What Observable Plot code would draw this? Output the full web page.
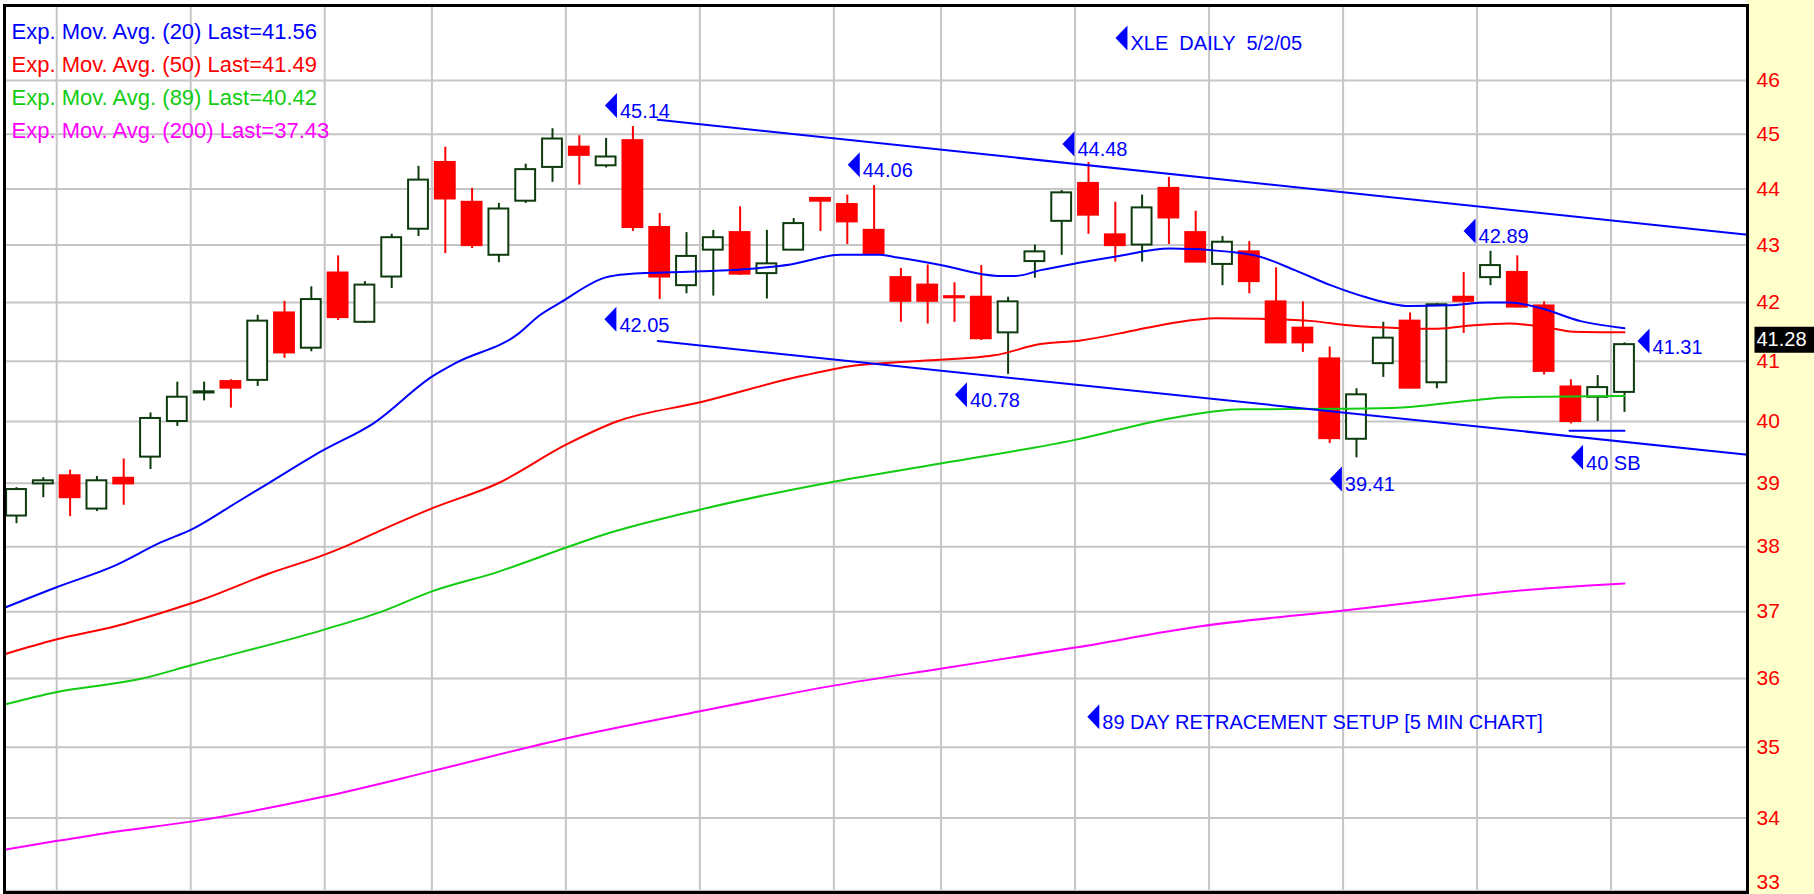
<!DOCTYPE html>
<html>
<head>
<meta charset="utf-8">
<script src="https://cdn.jsdelivr.net/npm/d3@7"></script>
<script src="https://cdn.jsdelivr.net/npm/@observablehq/plot@0.6"></script>
<style>
  html, body { margin: 0; padding: 0; background: #ffffff; }
  #chart svg { display: block; }
  #chart svg text { white-space: pre; }
</style>
</head>
<body>
<div id="chart"></div>
<script>
// ---- Data ----
const dates = ["2005-02-03","2005-02-04","2005-02-07","2005-02-08","2005-02-09","2005-02-10","2005-02-11",
  "2005-02-14","2005-02-15","2005-02-16","2005-02-17","2005-02-18","2005-02-22","2005-02-23","2005-02-24",
  "2005-02-25","2005-02-28","2005-03-01","2005-03-02","2005-03-03","2005-03-04","2005-03-07","2005-03-08",
  "2005-03-09","2005-03-10","2005-03-11","2005-03-14","2005-03-15","2005-03-16","2005-03-17","2005-03-18",
  "2005-03-21","2005-03-22","2005-03-23","2005-03-24","2005-03-28","2005-03-29","2005-03-30","2005-03-31",
  "2005-04-01","2005-04-04","2005-04-05","2005-04-06","2005-04-07","2005-04-08","2005-04-11","2005-04-12",
  "2005-04-13","2005-04-14","2005-04-15","2005-04-18","2005-04-19","2005-04-20","2005-04-21","2005-04-22",
  "2005-04-25","2005-04-26","2005-04-27","2005-04-28","2005-04-29","2005-05-02"];

const opens = [38.48,38.99,39.12,38.59,39.08,39.42,40.00,40.47,40.66,40.68,41.82,41.22,42.51,41.66,42.44,
  43.28,44.48,43.76,42.82,43.78,44.39,44.76,44.42,44.88,43.31,42.29,42.91,43.22,42.50,42.91,43.83,
  43.72,43.26,42.43,42.30,42.10,42.09,41.48,42.71,43.42,44.10,43.18,43.00,44.01,43.22,42.66,42.88,
  42.01,41.56,41.04,39.71,40.96,41.68,40.64,42.09,42.43,42.52,41.94,40.57,40.40,40.48];
const highs = [38.93,39.09,39.21,39.11,39.39,40.14,40.65,40.65,40.69,41.78,42.02,42.27,42.81,42.36,43.19,
  44.41,44.76,44.01,43.74,44.45,45.10,44.97,44.92,45.14,43.56,43.22,43.26,43.68,43.26,43.47,43.84,
  43.89,44.06,42.59,42.65,42.34,42.64,42.09,43.00,43.97,44.48,43.76,43.89,44.21,43.60,43.15,43.06,
  42.60,42.01,41.24,40.54,41.66,41.82,41.98,42.52,42.89,42.81,42.01,40.69,40.76,41.31];
const lows = [38.36,38.77,38.47,38.55,38.65,39.22,39.92,40.34,40.22,40.58,41.05,41.16,41.69,41.64,42.24,
  43.15,42.85,42.94,42.69,43.74,44.12,44.07,44.38,43.24,42.05,42.15,42.11,42.47,42.06,42.90,43.24,
  43.01,42.84,41.66,41.63,41.66,41.35,40.78,42.42,42.82,43.19,42.70,42.70,43.01,42.69,42.29,42.15,
  41.30,41.15,39.64,39.41,40.73,40.54,40.54,41.47,42.29,41.91,40.77,39.96,40.00,40.15];
const closes = [38.90,39.04,38.77,39.04,38.99,40.05,40.40,40.49,40.55,41.68,41.14,42.05,41.74,42.30,43.13,
  44.16,43.82,42.99,43.64,44.35,44.91,44.61,44.58,43.31,42.44,42.80,43.13,42.49,42.67,43.38,43.78,
  43.41,42.85,42.02,42.02,42.08,41.38,42.01,42.88,43.93,43.53,42.99,43.66,43.48,42.70,43.05,42.36,
  41.31,41.31,39.72,40.44,41.39,40.55,41.96,42.02,42.64,41.92,40.83,40.00,40.56,41.28];

// exponential moving averages at the given candle positions
const emaPeriods = [20, 50, 89, 200];
const ema20Pos = [-0.45,1.47,3.69,5.40,6.54,8.20,9.40,11.40,13.32,15.53,16.43,18.68,19.55,20.30,21.95,22.75,
  25.55,27.55,28.88,30.75,32.21,32.88,34.48,36.61,37.28,38.21,39.54,41.03,43.03,45.30,46.37,47.70,49.03,
  50.36,51.96,53.43,54.89,55.69,56.89,58.36,60];
const ema20 = [37.06,37.37,37.71,38.07,38.27,38.69,39.00,39.52,39.97,40.75,40.98,41.45,41.79,42.00,42.43,42.49,
  42.54,42.59,42.66,42.83,42.83,42.78,42.65,42.46,42.46,42.56,42.68,42.80,42.94,42.88,42.80,42.56,42.30,
  42.09,41.94,41.95,42.00,42.00,41.90,41.68,41.56];
const ema50Pos = [-0.45,1.47,3.69,5.54,6.83,9.40,11.40,12.25,13.68,15.50,17.97,20.54,22.40,25.55,28.88,31.28,
  33.50,36.48,38.21,39.70,41.70,43.03,44.76,46.37,48.36,49.70,51.68,53.02,54.37,55.69,57.01,58.10,60];
const ema50 = [36.36,36.58,36.78,37.00,37.17,37.58,37.86,38.00,38.27,38.60,39.00,39.63,40.00,40.32,40.71,40.93,
  41.00,41.10,41.29,41.35,41.52,41.64,41.73,41.72,41.68,41.61,41.56,41.55,41.61,41.64,41.58,41.50,41.49];
const ema89Pos = [-0.45,1.47,4.69,6.54,11.48,13.68,15.50,17.97,20.54,21.79,25.50,30.54,34.53,39.50,43.03,45.70,
  49.70,51.69,54.36,55.69,60];
const ema89 = [35.62,35.80,36.00,36.20,36.73,37.01,37.31,37.61,37.99,38.17,38.58,39.03,39.32,39.70,40.05,40.20,
  40.21,40.23,40.35,40.40,40.42];
const ema200Pos = [-0.45,1.47,3.69,6.51,11.48,15.50,20.54,25.50,30.54,34.53,39.50,44.18,49.53,52.51,54.55,59.52,60];
const ema200 = [33.56,33.68,33.81,33.95,34.30,34.66,35.13,35.52,35.90,36.15,36.46,36.78,37.02,37.16,37.26,37.42,37.43];

// hand-drawn channel lines (candle position, price)
const upperChannel = [[23.93, 45.265], [64.59, 43.18]];
const lowerChannel = [[23.93, 41.34], [64.59, 39.46]];
const sbLevel = [[57.95, 39.85], [60.0, 39.85]];

// annotations: label, candle position, price level
const noteLabels = ["XLE  DAILY  5/2/05", "45.14", "44.06", "44.48", "42.89", "42.05", "40.78", "39.41",
  "40 SB", "41.31", "89 DAY RETRACEMENT SETUP [5 MIN CHART]"];
const noteAt = [41.23, 22.18, 31.24, 39.25, 54.22, 22.16, 35.24, 49.23, 58.23, 60.71, 40.18];
const noteLevel = [46.81, 45.53, 44.44, 44.82, 43.25, 41.71, 40.44, 39.07, 39.42, 41.34, 35.44];

const yTicks = [33, 34, 35, 36, 37, 38, 39, 40, 41, 42, 43, 44, 45, 46];
const lastPrice = 41.28;

// ---- Styles ----
const UP = "#0d3b0d", DOWN = "#ff0000", GRID = "#c6c6c6", ANNOT = "#0000ff";
const emaColors = ["#0000ff", "#ff0000", "#11cc11", "#ff00ff"];

// ---- Tables built from the arrays ----
const candles = dates.map((d, i) => ({
  i, date: new Date(d + "T00:00:00Z"),
  open: opens[i], high: highs[i], low: lows[i], close: closes[i],
  up: closes[i] >= opens[i]
}));
const weekBreaks = candles
  .filter((c, k) => k > 0 && +d3.utcMonday.floor(c.date) !== +d3.utcMonday.floor(candles[k - 1].date))
  .map(c => c.i - 0.5);

const emaPos = [ema20Pos, ema50Pos, ema89Pos, ema200Pos];
const emaVal = [ema20, ema50, ema89, ema200];
const emaSeries = emaPeriods.map((p, k) => emaPos[k].map((x, j) => ({x, y: emaVal[k][j]})));
const legendRows = emaPeriods.map((p, k) => `Exp. Mov. Avg. (${p}) Last=${emaVal[k][emaVal[k].length - 1].toFixed(2)}`);
const notes = noteLabels.map((label, k) => ({label, x: noteAt[k], y: noteLevel[k]}));
const bottomTick = yTicks[0];
const otherTicks = yTicks.slice(1);

const leftTriangle = {draw(ctx) { ctx.moveTo(6, -12.5); ctx.lineTo(-6, 0); ctx.lineTo(6, 12.5); ctx.closePath(); }};
const priceBox = {draw(ctx) { ctx.moveTo(7, -18); ctx.lineTo(70, -18); ctx.lineTo(70, 8); ctx.lineTo(7, 8); ctx.closePath(); }};

const chart = Plot.plot({
  width: 1814,
  height: 894,
  marginLeft: 4,
  marginRight: 67,
  marginTop: 5,
  marginBottom: 2,
  style: "background: linear-gradient(to right, #ffffff 1747px, #ffffcc 1747px); font-family: 'Liberation Sans', Arial, sans-serif;",
  x: {domain: [-0.448, 64.59], axis: null},
  y: {type: "log", domain: [32.978, 47.436], axis: null, label: null},
  color: {type: "identity"},
  marks: [
    Plot.gridY(yTicks, {stroke: GRID, strokeOpacity: 1, strokeWidth: 2}),
    Plot.ruleX(weekBreaks, {stroke: GRID, strokeOpacity: 1, strokeWidth: 2}),
    // candles
    Plot.ruleX(candles, {x: "i", y1: "low", y2: "high", stroke: d => d.up ? UP : DOWN, strokeWidth: 2}),
    Plot.rect(candles, {
      x1: d => d.i - 0.37, x2: d => d.i + 0.37, y1: "open", y2: "close",
      fill: d => d.up ? "#ffffff" : DOWN, stroke: d => d.up ? UP : DOWN, strokeWidth: 2
    }),
    // moving averages
    ...emaSeries.map((s, k) => Plot.line(s, {x: "x", y: "y", stroke: emaColors[k], strokeWidth: 2, curve: "monotone-x"})),
    // channel lines
    Plot.line(upperChannel, {x: d => d[0], y: d => d[1], stroke: ANNOT, strokeWidth: 2}),
    Plot.line(lowerChannel, {x: d => d[0], y: d => d[1], stroke: ANNOT, strokeWidth: 2}),
    Plot.line(sbLevel, {x: d => d[0], y: d => d[1], stroke: ANNOT, strokeWidth: 2}),
    // annotations
    Plot.dot(notes, {x: "x", y: "y", symbol: leftTriangle, fill: ANNOT, stroke: "none"}),
    Plot.text(notes, {x: "x", y: "y", text: "label", dx: 9, dy: 12.5, lineAnchor: "bottom", textAnchor: "start", fill: ANNOT, fontSize: 20}),
    // legend
    ...legendRows.map((t, k) => Plot.text([t], {
      text: d => d, frameAnchor: "top-left", dx: 7, dy: 17.5 + 33 * k,
      lineAnchor: "top", textAnchor: "start", fill: emaColors[k], fontSize: 22
    })),
    // right price axis
    Plot.axisY(otherTicks, {anchor: "right", tickSize: 0, tickPadding: 9, textAnchor: "start", fill: "#ff0000", fontSize: 21, tickFormat: d => String(d), label: null}),
    Plot.text([bottomTick], {y: d => d, text: d => String(d), frameAnchor: "right", dx: 9, dy: -2, textAnchor: "start", lineAnchor: "bottom", fill: "#ff0000", fontSize: 21}),
    Plot.dot([lastPrice], {y: d => d, frameAnchor: "right", symbol: priceBox, fill: "#000000", stroke: "none"}),
    Plot.text([lastPrice], {y: d => d, text: d => d.toFixed(2), frameAnchor: "right", dx: 9, dy: -5, textAnchor: "start", lineAnchor: "middle", fill: "#ffffff", fontSize: 20}),
    Plot.frame({stroke: "#000000", strokeWidth: 3})
  ]
});
document.getElementById("chart").append(chart);
</script>
</body>
</html>
